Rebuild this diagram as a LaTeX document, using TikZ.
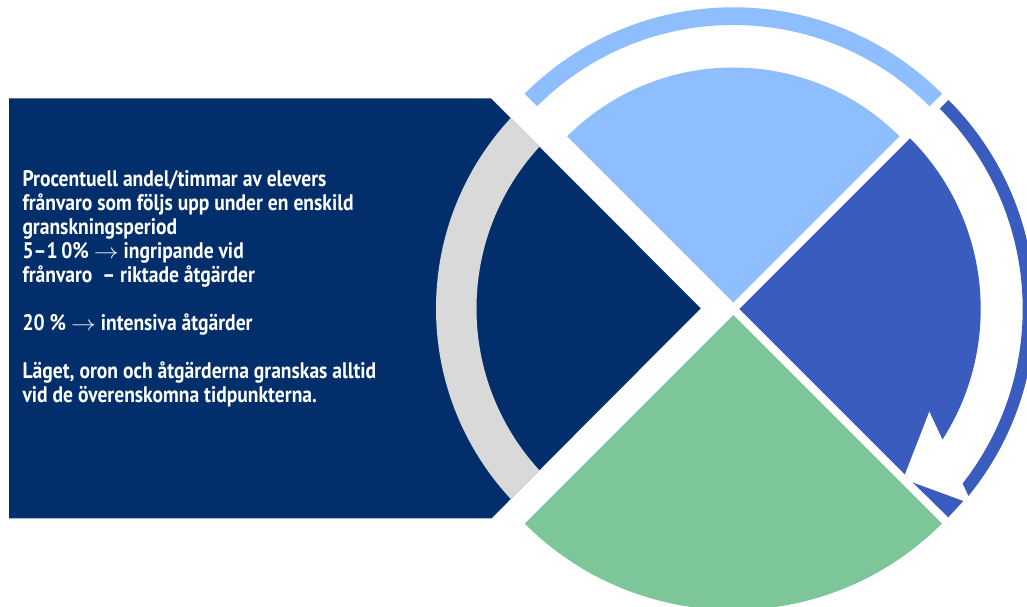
\documentclass[tikz,border=0pt]{standalone}
\usepackage{fontspec}
\newfontfamily\lblfont{PT Sans}[FakeStretch=0.87]
\usetikzlibrary{calc}
\definecolor{navyc}{RGB}{2,47,107}
\definecolor{ringgray}{RGB}{217,217,217}
\definecolor{lightbluec}{RGB}{143,190,254}
\definecolor{midbluec}{RGB}{57,92,190}
\definecolor{greenc}{RGB}{124,198,154}
\newcommand{\longarr}{\scalebox{1.2}[1]{$\rightarrow$}}
\tikzset{
  txt/.style={anchor=base west, inner sep=0pt, text=white,
    text height=15pt, text depth=4pt,
    font=\lblfont\bfseries\fontsize{22.5}{24}\selectfont}
}
\begin{document}
\begin{tikzpicture}[x=1pt,y=1pt]
\useasboundingbox (0,0) rectangle (1027,-607);
\clip (0,0) rectangle (1027,-607);
% centres
\coordinate (LB) at (733.3,-302.5);
\coordinate (B)  at (739.3,-309);
\coordinate (G)  at (733.3,-315);
\coordinate (R)  at (716,-308.5);
% navy panel
\fill[navyc] (9,-98.3) -- (491,-98.3) -- (700.7,-308.3) -- (491.5,-518.3) -- (9,-518.3) -- cycle;
\begin{scope}
  \clip (9,-98.3) -- (491,-98.3) -- (700.7,-308.3) -- (491.5,-518.3) -- (9,-518.3) -- cycle;
  \fill[ringgray, even odd rule] (R) circle[radius=280pt] (R) circle[radius=239.5pt];
\end{scope}
% light blue wedge and ring
\fill[lightbluec] (LB) -- ++(45:235pt) arc[start angle=45,end angle=135,radius=235pt] -- cycle;
\fill[lightbluec] ($(LB)+(45:295.2pt)$) arc[start angle=45,end angle=135,radius=295.2pt]
  -- ($(LB)+(135:277.5pt)$) arc[start angle=135,end angle=45,radius=277.5pt] -- cycle;
% blue wedge, notch, ring with arrow
\fill[midbluec] (B) -- ++(-45:241.4pt) arc[start angle=-45,end angle=45,radius=241.4pt] -- cycle;
\fill[white] (929.3,-411.7) -- (942.3,-439.3) -- (958,-455) -- (913,-484) -- (905,-474.3) -- cycle;
\fill[midbluec] ($(B)+(45:295.7pt)$) arc[start angle=45,end angle=-39.2,radius=295.7pt]
  -- ($(B)+(-38:283.4pt)$) arc[start angle=-38,end angle=45,radius=283.4pt] -- cycle;
\fill[midbluec] (912.7,-482.5) -- (963.3,-501) -- (948.3,-517.3) -- cycle;
% green wedge
\fill[greenc] (G) -- ++(225:295pt) arc[start angle=225,end angle=315,radius=295pt] -- cycle;
% text
\node[txt] (t1) at (22.3,-186) {Procentuell andel/timmar av elevers};
\node[txt] (t2) at (22.3,-210) {frånvaro som följs upp under en enskild};
\node[txt] (t3) at (22.3,-234) {granskningsperiod};
\node[txt] (t4) at (22.3,-258) {5–1\,0\% \longarr{} ingripande vid};
\node[txt] (t5) at (22.3,-282) {frånvaro \ – riktade åtgärder};
\node[txt] (t6) at (22.3,-330) {20 \% \longarr{} intensiva åtgärder};
\node[txt] (t7) at (22.3,-378) {Läget, oron och åtgärderna granskas alltid};
\node[txt] (t8) at (22.3,-402) {vid de överenskomna tidpunkterna.};
\end{tikzpicture}
\end{document}
